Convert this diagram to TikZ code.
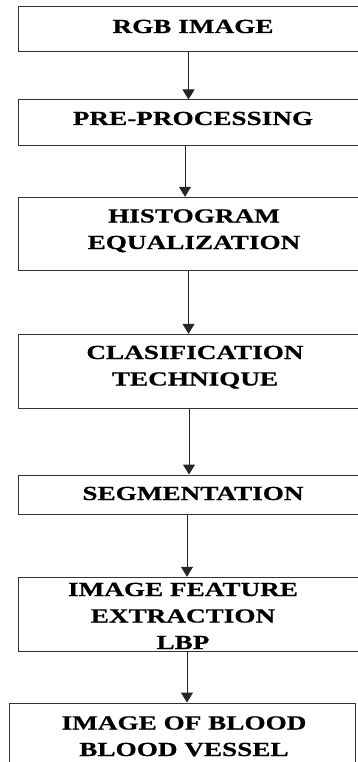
\documentclass[tikz,border=0pt]{standalone}
\usepackage{fontspec}
\newfontfamily\boxfont[FakeStretch=1.36,BoldFeatures={FakeBold=0.6}]{Liberation Serif}
\usetikzlibrary{arrows.meta}
\begin{document}
\begin{tikzpicture}[x=1pt,y=-1pt,
  box/.style={draw=black!80,line width=1pt,rectangle,inner sep=0pt},
  lbl/.style={font=\boxfont\bfseries\fontsize{20pt}{26.5pt}\selectfont, align=center, inner sep=0pt, anchor=base, text=black},
  arr/.style={draw=black!85, line width=1pt, -{Triangle[width=12pt,length=10pt]}}]
\useasboundingbox (0,0) rectangle (357,762);
% boxes
\node[box, minimum width=351.5pt, minimum height=45pt] (b1) at (194.25,29.5) {};
\node[box, minimum width=351.5pt, minimum height=45.5pt] (b2) at (194.25,122.75) {};
\node[box, minimum width=351.5pt, minimum height=73.4pt] (b3) at (194.25,234) {};
\node[box, minimum width=351.5pt, minimum height=74pt] (b4) at (194.25,371.3) {};
\node[box, minimum width=351.5pt, minimum height=39pt] (b5) at (194.25,494.5) {};
\node[box, minimum width=351.5pt, minimum height=73.7pt] (b6) at (194.25,614.15) {};
\node[box, minimum width=345.5pt, minimum height=77pt] (b7) at (182.25,741.5) {};
% texts (anchored at the baseline of the last line)
\node[lbl] (t1) at (193,33) {RGB IMAGE};
\node[lbl] (t2) at (193,125) {PRE-PROCESSING};
\node[lbl] (t3) at (194,249) {HISTOGRAM\\EQUALIZATION};
\node[lbl] (t4) at (195,385.5) {CLASIFICATION\\TECHNIQUE};
\node[lbl] (t5) at (193,500) {SEGMENTATION};
\node[lbl] (t6) at (183,649) {IMAGE FEATURE\\EXTRACTION\\LBP};
\node[lbl] (t7) at (184,756) {IMAGE OF BLOOD\\BLOOD VESSEL};
% arrow x positions
\coordinate (x1) at (188.5,0);
\coordinate (x2) at (185,0);
\coordinate (x3) at (188.5,0);
\coordinate (x4) at (189,0);
\coordinate (x5) at (187,0);
\coordinate (x6) at (187,0);
\draw[arr] (b1.south -| x1) -- (b2.north -| x1);
\draw[arr] (b2.south -| x2) -- (b3.north -| x2);
\draw[arr] (b3.south -| x3) -- (b4.north -| x3);
\draw[arr] (b4.south -| x4) -- (b5.north -| x4);
\draw[arr] (b5.south -| x5) -- (b6.north -| x5);
\draw[arr] (b6.south -| x6) -- (b7.north -| x6);
\end{tikzpicture}
\end{document}
